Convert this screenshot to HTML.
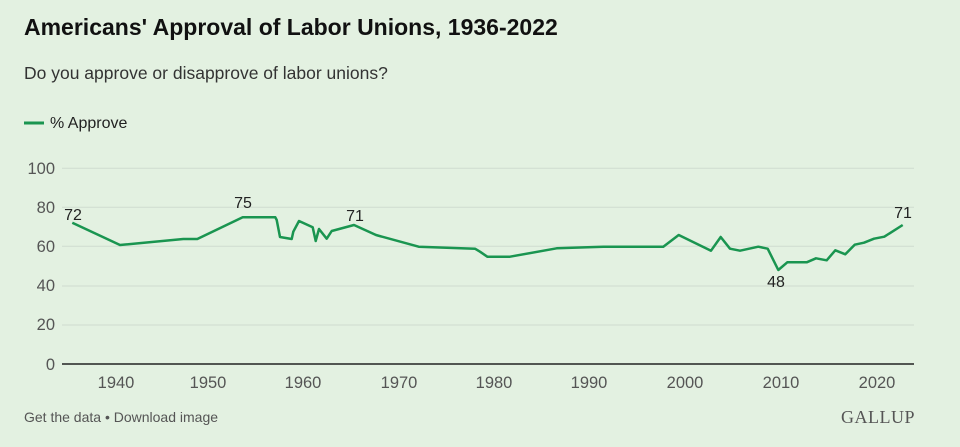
<!DOCTYPE html>
<html><head><meta charset="utf-8"><style>
body{margin:0;background:#e3f1e1;width:960px;height:442px;overflow:hidden;font-family:"Liberation Sans",sans-serif;}
</style></head><body>
<svg width="960" height="442" xmlns="http://www.w3.org/2000/svg" font-family="Liberation Sans, sans-serif">
<rect width="960" height="442" fill="#e3f1e1"/>
<text x="24" y="35" font-size="23" font-weight="bold" fill="#111">Americans' Approval of Labor Unions, 1936-2022</text>
<text x="24" y="79" font-size="17.5" fill="#333">Do you approve or disapprove of labor unions?</text>
<line x1="24" y1="123" x2="44" y2="123" stroke="#1a9550" stroke-width="3"/>
<text x="50" y="128" font-size="16" fill="#222">% Approve</text>
<g stroke="#cfdccf" stroke-width="1">
<line x1="62" y1="168.3" x2="914" y2="168.3"/><line x1="62" y1="207.3" x2="914" y2="207.3"/>
<line x1="62" y1="246.3" x2="914" y2="246.3"/><line x1="62" y1="286" x2="914" y2="286"/>
<line x1="62" y1="325" x2="914" y2="325"/>
</g>
<line x1="62" y1="364" x2="914" y2="364" stroke="#222" stroke-width="1.5"/>
<g font-size="16.5" fill="#555" text-anchor="end">
<text x="55" y="174">100</text><text x="55" y="213">80</text><text x="55" y="252">60</text>
<text x="55" y="291">40</text><text x="55" y="330">20</text><text x="55" y="370">0</text>
</g>
<g font-size="16.5" fill="#555" text-anchor="middle">
<text x="116" y="388">1940</text><text x="208" y="388">1950</text><text x="303" y="388">1960</text>
<text x="399" y="388">1970</text><text x="494" y="388">1980</text><text x="589" y="388">1990</text>
<text x="685" y="388">2000</text><text x="781" y="388">2010</text><text x="877" y="388">2020</text>
</g>
<polyline fill="none" stroke="#1a9550" stroke-width="2.5" stroke-linejoin="round" points="72.3,222.7 120,245 183.3,239 197.3,239 242.7,217.3 275.3,217.3 276.7,220 280,237 291.7,239 293.3,231.7 299,221 312.7,227.3 315.7,241 319,229 326.7,238.7 331.7,231 354,225 376,235 418.7,246.7 475,248.7 480,251.7 487.3,256.7 510,256.7 556.7,248.3 603.3,246.7 663.3,246.7 678.7,235 711,250.7 720.7,237 730,248.7 740,250.7 758.3,246.7 767.7,248.7 778.3,270 787.3,262.3 806.7,262.3 816,258.3 826.7,260.3 835.3,250.3 845.3,254.3 854.7,244.7 864,242.7 874,238.7 884.3,236.7 902.7,225"/>
<g font-size="16" fill="#222" text-anchor="middle">
<text x="73" y="220">72</text><text x="243" y="208">75</text><text x="355" y="221">71</text>
<text x="776" y="287">48</text><text x="903" y="218">71</text>
</g>
<text x="24" y="422" font-size="14" fill="#555">Get the data • Download image</text>
<text x="915" y="423" font-size="18" fill="#555" text-anchor="end" font-family="Liberation Serif, serif" letter-spacing="0.5">GALLUP</text>
</svg>
</body></html>
